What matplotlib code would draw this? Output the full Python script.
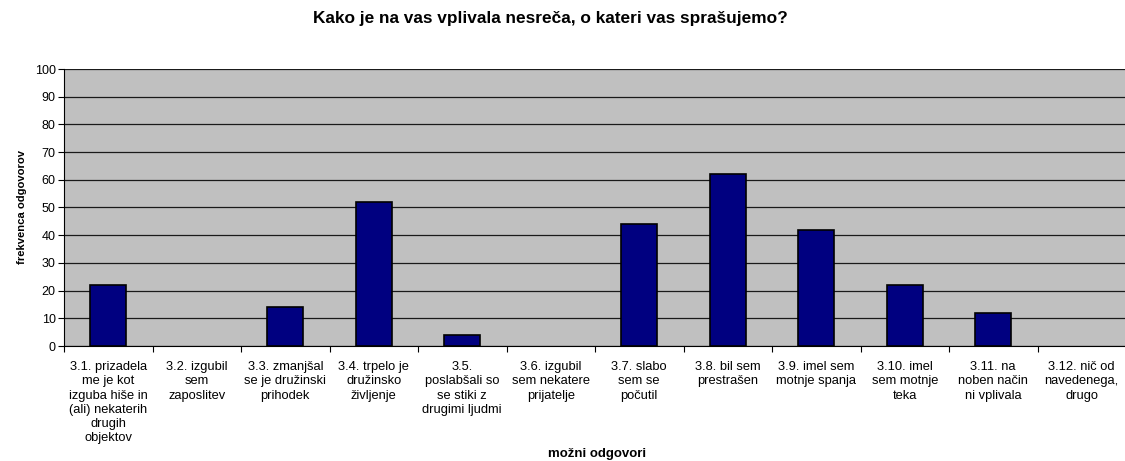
import numpy as np
import matplotlib
matplotlib.use("Agg")
import matplotlib.pyplot as plt

plt.rcParams['font.family'] = ['Liberation Sans', 'DejaVu Sans']

categories = [
    "3.1. prizadela\nme je kot\nizguba hiše in\n(ali) nekaterih\ndrugih\nobjektov",
    "3.2. izgubil\nsem\nzaposlitev",
    "3.3. zmanjšal\nse je družinski\nprihodek",
    "3.4. trpelo je\ndružinsko\nživljenje",
    "3.5.\nposlabšali so\nse stiki z\ndrugimi ljudmi",
    "3.6. izgubil\nsem nekatere\nprijatelje",
    "3.7. slabo\nsem se\npočutil",
    "3.8. bil sem\nprestrašen",
    "3.9. imel sem\nmotnje spanja",
    "3.10. imel\nsem motnje\nteka",
    "3.11. na\nnoben način\nni vplivala",
    "3.12. nič od\nnavedenega,\ndrugo",
]
values = [22, 0, 14, 52, 4, 0, 44, 62, 42, 22, 12, 0]

title = "Kako je na vas vplivala nesreča, o kateri vas sprašujemo?"
ylabel = "frekvenca odgovorov"
xlabel = "možni odgovori"

fig = plt.figure(figsize=(11.25, 4.61), dpi=100)
ax = fig.add_axes([64/1125, 1-346/461, (1126-64)/1125, (346-69)/461])
ax.set_facecolor("#C0C0C0")

x = np.arange(len(categories))
edges = ["black" if v > 0 else "none" for v in values]
ax.bar(x, values, width=0.41, color="#000080", edgecolor=edges, linewidth=1.2, zorder=3)

ax.set_xlim(-0.5, len(categories)-0.5)
ax.set_ylim(0, 100)
ax.set_yticks(range(0, 101, 10))
ax.yaxis.grid(True, color="#1a1a1a", linewidth=0.9, zorder=1)
ax.set_axisbelow(True)

ax.set_xticks(x)
ax.set_xticklabels(categories, fontsize=9.3, linespacing=1.24, va="top")
ax.set_xticks(np.arange(-0.5, len(categories), 1), minor=True)
ax.tick_params(axis="x", which="major", length=0, pad=11)
ax.tick_params(axis="x", which="minor", length=4, width=0.8, direction="out")
ax.tick_params(axis="y", length=4, width=0.8, labelsize=9, pad=2)

for s in ["top", "right"]:
    ax.spines[s].set_visible(False)
ax.spines["left"].set_linewidth(0.8)
ax.spines["bottom"].set_linewidth(0.8)

ax.set_ylabel(ylabel, fontsize=8.1, fontweight="bold", labelpad=5.5)
fig.text(597/1125, 1-454/461, xlabel, ha="center", va="center", fontsize=9.5, fontweight="bold")
fig.text(550/1125, 1-19/461, title, ha="center", va="center", fontsize=12.4, fontweight="bold")

fig.savefig("out.png", dpi=100)
